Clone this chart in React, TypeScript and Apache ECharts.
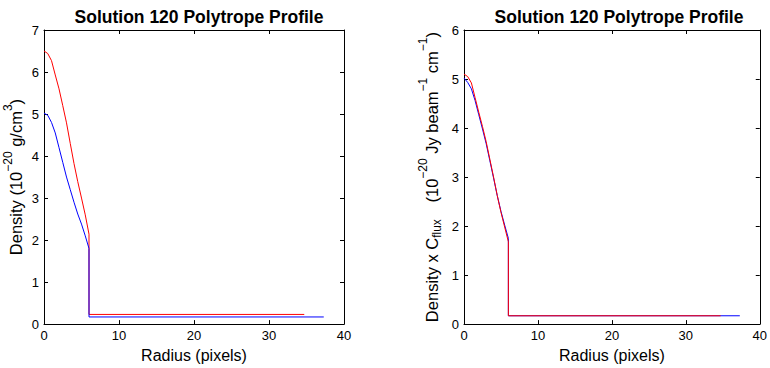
import React, { useEffect, useRef } from "react";
import * as echarts from "echarts";

// Radius samples of the inner (polytrope) part, pixels
const innerRadius = [0, 0.5, 1.0, 1.5, 2.0, 2.5, 3.0, 3.5, 4.0, 4.5, 5.0, 5.5, 6.0];

// Left panel: density (1e-20 g/cm^3)
const leftRed = [6.5, 6.44, 6.27, 5.93, 5.6, 5.2, 4.79, 4.3, 3.82, 3.39, 3.0, 2.6, 2.14];
const leftBlue = [5.02, 4.97, 4.8, 4.55, 4.2, 3.85, 3.5, 3.2, 2.9, 2.62, 2.38, 2.1, 1.8];
const leftRedOuter = 0.23;
const leftBlueOuter = 0.17;

// Right panel: density x C_flux
const rightRed = [5.1, 5.05, 4.92, 4.62, 4.32, 4.03, 3.72, 3.36, 3.0, 2.62, 2.28, 1.98, 1.68];
const rightBlue = [5.02, 4.93, 4.8, 4.56, 4.27, 3.98, 3.68, 3.33, 2.98, 2.62, 2.3, 2.02, 1.75];
const rightRedOuter = 0.17;
const rightBlueOuter = 0.17;

// Outer edge radii and jump radius
const jumpRadius = 6.0;
const redEndRadius = 34.7;
const blueEndRadius = 37.3;

const leftYMax = 7;
const rightYMax = 6;

const FONT = "Liberation Sans, Arial, Helvetica, sans-serif";

function buildSeries(inner: number[], outer: number, end: number): number[][] {
  const pts = innerRadius.map((r, i) => [r, inner[i]]);
  pts.push([jumpRadius, outer]);
  pts.push([end, outer]);
  return pts;
}

const richStyles = {
  n: { fontSize: 16.5, lineHeight: 17, fontFamily: FONT, color: "#000", padding: [0, 0, 3, 0], verticalAlign: "bottom" },
  s: { fontSize: 12, lineHeight: 12, fontFamily: FONT, color: "#000", padding: [0, 0, 14, 0], verticalAlign: "bottom" },
  b: { fontSize: 12, lineHeight: 12, fontFamily: FONT, color: "#000", padding: [0, 12, 0, 0], verticalAlign: "bottom" },
};

export default function App() {
  const ref = useRef<HTMLDivElement>(null);
  useEffect(() => {
    if (!ref.current) return;
    const chart = echarts.init(ref.current, null, { renderer: "svg" });

    const tickLabel = { show: true, fontSize: 13, fontFamily: FONT, color: "#000" };
    const axisLine = { show: true, onZero: false, lineStyle: { color: "#000", width: 1 } };
    const axisTick = { show: true, inside: true, length: 4, lineStyle: { color: "#000", width: 1 } };

    const xAxisFor = (gi: number, pos: "bottom" | "top") => ({
      type: "value",
      gridIndex: gi,
      position: pos,
      min: 0,
      max: 40,
      interval: 10,
      axisLine,
      axisTick,
      splitLine: { show: false },
      axisLabel: pos === "bottom" ? { ...tickLabel, margin: 5 } : { show: false },
      name: pos === "bottom" ? "Radius (pixels)" : "",
      nameLocation: "middle",
      nameGap: 20,
      nameTextStyle: { fontSize: 16, lineHeight: 16, fontFamily: FONT, color: "#000" },
    });

    const yAxisFor = (gi: number, pos: "left" | "right", max: number, name: string, gap: number) => ({
      type: "value",
      gridIndex: gi,
      position: pos,
      min: 0,
      max,
      interval: 1,
      axisLine,
      axisTick,
      splitLine: { show: false },
      axisLabel: pos === "left" ? { ...tickLabel, margin: 5 } : { show: false },
      name: pos === "left" ? name : "",
      nameLocation: "middle",
      nameRotate: 90,
      nameGap: gap,
      nameTextStyle: { rich: richStyles, fontFamily: FONT, color: "#000" },
    });

    const titleStyle = { fontSize: 17.5, fontWeight: "bold", fontFamily: FONT, color: "#000" };

    const option = {
      animation: false,
      backgroundColor: "#fff",
      title: [
        { text: "Solution 120 Polytrope Profile", left: 194, top: 3, textAlign: "center", textStyle: titleStyle },
        { text: "Solution 120 Polytrope Profile", left: 614, top: 3, textAlign: "center", textStyle: titleStyle },
      ],
      grid: [
        { left: 44, top: 30, width: 300, height: 300 },
        { left: 464, top: 30, width: 300, height: 300 },
      ],
      xAxis: [xAxisFor(0, "bottom"), xAxisFor(0, "top"), xAxisFor(1, "bottom"), xAxisFor(1, "top")],
      yAxis: [
        yAxisFor(0, "left", leftYMax, "{n|Density (10}{s|\u221220}{n| g/cm}{s|3}{n|)}", 13),
        yAxisFor(0, "right", leftYMax, "", 0),
        yAxisFor(1, "left", rightYMax, "{n|Density x C}{b|flux}{n| (10}{s|\u221220}{n| Jy beam}{s|\u22121}{n| cm}{s|\u22121}{n|)}", 21),
        yAxisFor(1, "right", rightYMax, "", 0),
      ],
      series: [
        {
          type: "line",
          xAxisIndex: 0,
          yAxisIndex: 0,
          data: buildSeries(leftRed, leftRedOuter, redEndRadius),
          showSymbol: false,
          lineStyle: { color: "#ff0000", width: 1 },
        },
        {
          type: "line",
          xAxisIndex: 0,
          yAxisIndex: 0,
          data: buildSeries(leftBlue, leftBlueOuter, blueEndRadius),
          showSymbol: false,
          lineStyle: { color: "#0000ff", width: 1 },
        },
        {
          type: "line",
          xAxisIndex: 2,
          yAxisIndex: 2,
          data: buildSeries(rightBlue, rightBlueOuter, blueEndRadius),
          showSymbol: false,
          lineStyle: { color: "#0000ff", width: 1 },
        },
        {
          type: "line",
          xAxisIndex: 2,
          yAxisIndex: 2,
          data: buildSeries(rightRed, rightRedOuter, redEndRadius),
          showSymbol: false,
          lineStyle: { color: "#ff0000", width: 1 },
        },
      ],
    };
    chart.setOption(option as any);
    return () => chart.dispose();
  }, []);
  return (
    <div
      ref={ref}
      style={{ position: "fixed", left: 0, top: 0, width: 770, height: 368, background: "#fff" }}
    />
  );
}
